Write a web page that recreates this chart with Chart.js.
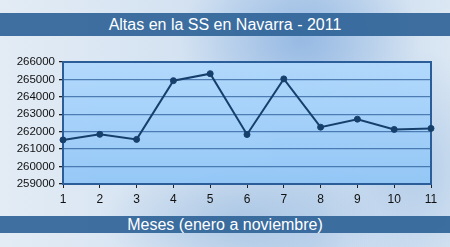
<!DOCTYPE html>
<html>
<head>
<meta charset="utf-8">
<script src="https://cdn.jsdelivr.net/npm/chart.js@4"></script>
<style>
  html, body { margin: 0; padding: 0; }
  body {
    width: 450px; height: 247px; overflow: hidden; position: relative;
    font-family: "Liberation Sans", Arial, sans-serif;
    background:
      radial-gradient(ellipse 120px 90px at 300px 40px, rgba(120,165,220,0.6), transparent),
      radial-gradient(ellipse 90px 120px at 420px 170px, rgba(150,185,225,0.5), transparent),
      radial-gradient(ellipse 140px 60px at 240px 220px, rgba(130,170,215,0.45), transparent),
      linear-gradient(90deg, #e3ecf5 0%, #d2e1f1 45%, #c4d8ee 70%, #dbe7f3 100%);
  }
  .band {
    position: absolute; left: 0; width: 450px;
    background: rgba(48,100,152,0.92); color: #fff;
    text-align: center; font-size: 16px;
  }
  #top { top: 13px; height: 23px; line-height: 23px; }
  #bottom { top: 216px; height: 17px; line-height: 17px; }
  #wrap { position: absolute; left: 0; top: 0; width: 450px; height: 247px; }
</style>
</head>
<body>
<div class="band" id="top">Altas en la SS en Navarra - 2011</div>
<div class="band" id="bottom">Meses (enero a noviembre)</div>
<div id="wrap"><canvas id="myChart" width="450" height="247"></canvas></div>
<script>
// Data
const months = ['1', '2', '3', '4', '5', '6', '7', '8', '9', '10', '11'];
const altas = [261530, 261850, 261560, 264930, 265330, 261840, 265030, 262260, 262720, 262130, 262190];
const yMin = 259000;
const yMax = 266000;

// plot background + frame
const plotFrame = {
  id: 'plotFrame',
  beforeDraw(chart) {
    const { ctx, chartArea: a } = chart;
    const g = ctx.createLinearGradient(0, a.top, 0, a.bottom);
    g.addColorStop(0, 'rgba(176,216,252,0.95)');
    g.addColorStop(1, 'rgba(146,198,246,0.95)');
    ctx.save();
    ctx.fillStyle = g;
    ctx.fillRect(a.left, a.top, a.right - a.left, a.bottom - a.top);
    ctx.restore();
  },
  beforeDatasetsDraw(chart) {
    const { ctx, chartArea: a } = chart;
    ctx.save();
    ctx.strokeStyle = '#2b5e98';
    ctx.lineWidth = 2;
    ctx.strokeRect(a.left, a.top, a.right - a.left, a.bottom - a.top);
    ctx.restore();
  }
};

const ctx = document.getElementById('myChart').getContext('2d');
new Chart(ctx, {
  type: 'line',
  data: {
    labels: months,
    datasets: [{
      data: altas,
      borderColor: '#163f6c',
      backgroundColor: '#163f6c',
      borderWidth: 2,
      pointRadius: 3,
      pointBorderWidth: 1,
      tension: 0
    }]
  },
  options: {
    responsive: false,
    animation: false,
    layout: { padding: { top: 62, right: 19, bottom: 33, left: 0 } },
    plugins: { legend: { display: false }, title: { display: false }, tooltip: { enabled: false } },
    scales: {
      x: {
        offset: false,
        grid: { drawOnChartArea: false, drawTicks: true, tickLength: 4, tickColor: '#222' },
        border: { display: false },
        ticks: { color: '#111', font: { family: 'Liberation Sans', size: 12 }, padding: 4, maxRotation: 0 },
        afterFit(s) { s.height = 30; }
      },
      y: {
        min: yMin,
        max: yMax,
        ticks: { stepSize: 1000, color: '#111', font: { family: 'Liberation Sans', size: 11.5 }, padding: 4,
                 callback: v => String(v) },
        grid: { color: 'rgba(45,95,155,0.75)', lineWidth: 1.3, tickLength: 4, tickColor: '#222' },
        border: { display: false },
        afterFit(s) { s.width = 63; }
      }
    }
  },
  plugins: [plotFrame]
});
</script>
</body>
</html>
